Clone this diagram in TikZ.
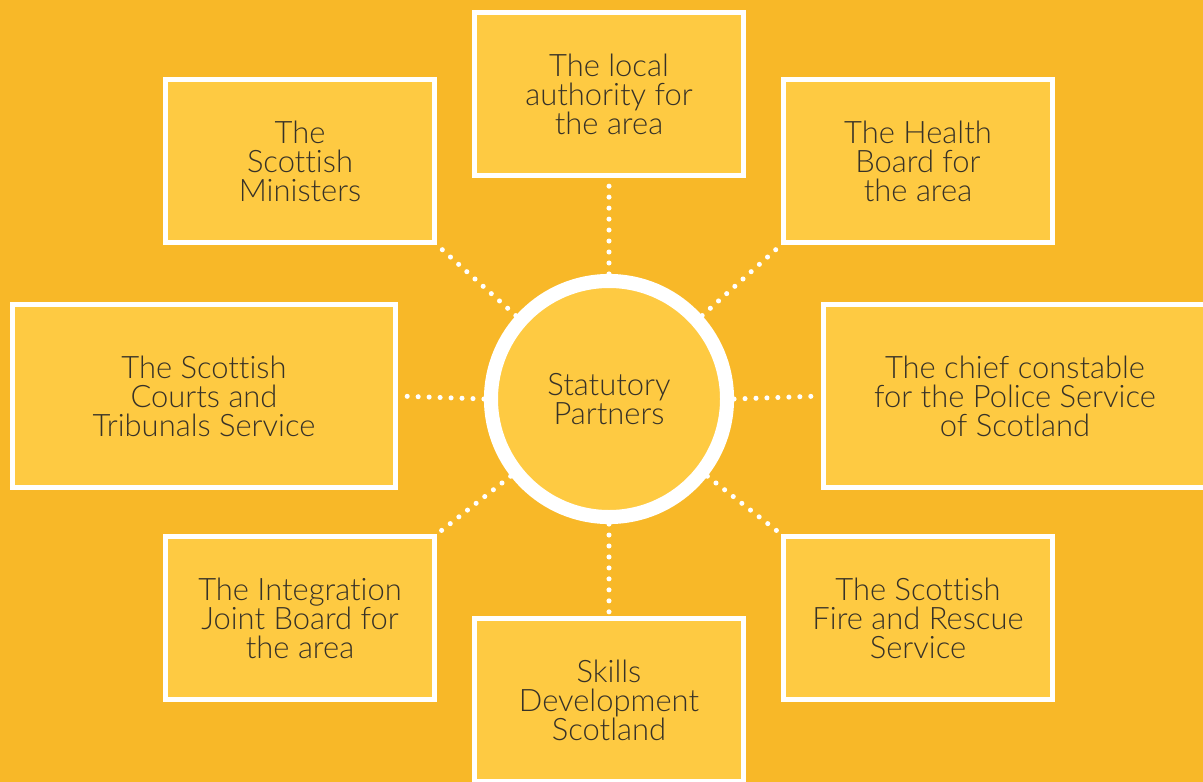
\documentclass[tikz,border=0pt]{standalone}
\usepackage{fontspec}
\setmainfont{Lato}[UprightFont=* Light,Ligatures=CommonOff]
\usetikzlibrary{positioning}
\definecolor{saffron}{RGB}{248,184,40}
\definecolor{butter}{RGB}{254,202,66}
\definecolor{ink}{RGB}{55,50,40}
\tikzset{
  partner/.style={draw=white,line width=3.4pt,fill=butter,text=ink,align=center,
    minimum width=6.725cm,minimum height=4.075cm,text depth=-3.5pt,
    font=\fontsize{22}{20.8}\selectfont},
  wide/.style={minimum width=9.575cm,minimum height=4.575cm},
  hub/.style={circle,draw=white,line width=10pt,fill=butter,text=ink,align=center,
    minimum size=5.9cm,font=\fontsize{22}{20.8}\selectfont},
  link/.style={white,line width=3.6pt,line cap=round,dash pattern=on 0pt off 7.8pt},
}

\begin{document}
\begin{tikzpicture}[x=0.025cm,y=-0.025cm]
  \fill[saffron] (0,0) rectangle (1203,782);
  \begin{scope}
    \clip (0,0) rectangle (1203,782);
    \node[hub] (hub) at (609,399) {Statutory\\Partners};
    \node[partner] (council) at (609,94) {The local\\authority for\\the area};
    \node[partner] (ministers) at (300,161) {The\\Scottish\\Ministers};
    \node[partner] (health) at (918,161) {The Health\\Board for\\the area};
    \node[partner,wide] (courts) at (204,396) {The Scottish\\Courts and\\Tribunals Service};
    \node[partner,wide] (police) at (1015,396) {The chief constable\\for the Police Service\\of Scotland};
    \node[partner] (ijb) at (300,618) {The Integration\\Joint Board for\\the area};
    \node[partner] (fire) at (918,618) {The Scottish\\Fire and Rescue\\Service};
    \node[partner] (skills) at (609,700) {Skills\\Development\\Scotland};
    % dotted spokes
    \draw[link] (hub) -- (council);
    \draw[link] (hub) -- (skills);
    \draw[link] (hub.west) -- (courts.east);
    \draw[link] (hub.east) -- (police.west);
    \draw[link] (hub) -- (ministers.south east);
    \draw[link] (hub) -- (health.south west);
    \draw[link] (hub) -- (ijb.north east);
    \draw[link] (hub) -- (fire.north west);
  \end{scope}
\end{tikzpicture}
\end{document}
